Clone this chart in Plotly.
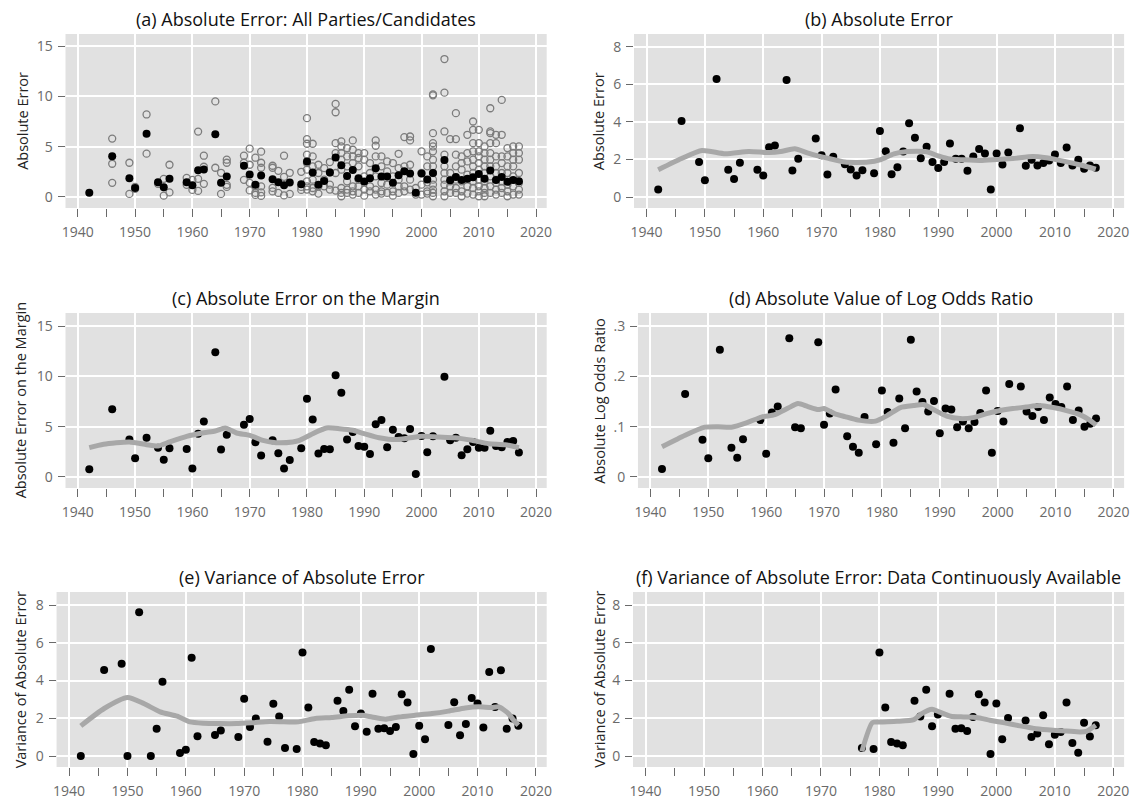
import plotly.graph_objects as go

# ---------------- data ----------------
years = [1942, 1946, 1949, 1950, 1952, 1954, 1955, 1956, 1959, 1960, 1961, 1962, 1964, 1965, 1966,
         1969, 1970, 1971, 1972, 1974, 1975, 1976, 1977, 1979, 1980, 1981, 1982, 1983, 1984, 1985,
         1986, 1987, 1988, 1989, 1990, 1991, 1992, 1993, 1994, 1995, 1996, 1997, 1998, 1999, 2000,
         2001, 2002, 2004, 2005, 2006, 2007, 2008, 2009, 2010, 2011, 2012, 2013, 2014, 2015, 2016, 2017]

abs_error = [0.41, 4.05, 1.86, 0.90, 6.28, 1.45, 0.96, 1.82, 1.45, 1.15, 2.65, 2.74, 6.23, 1.42, 2.04,
             3.11, 2.23, 1.20, 2.14, 1.75, 1.47, 1.15, 1.43, 1.27, 3.52, 2.44, 1.22, 1.59, 2.42, 3.93,
             3.15, 2.07, 2.67, 1.86, 1.54, 1.86, 2.85, 2.04, 2.04, 1.40, 2.16, 2.55, 2.32, 0.41, 2.32,
             1.73, 2.37, 3.66, 1.66, 1.98, 1.68, 1.81, 1.95, 2.27, 1.81, 2.64, 1.68, 1.98, 1.50, 1.68, 1.56]

margin_error = [0.76, 6.72, 3.71, 1.85, 3.90, 2.91, 1.72, 2.85, 2.78, 0.83, 4.30, 5.50, 12.4, 2.72, 4.20,
                5.20, 5.76, 3.44, 2.12, 3.64, 2.35, 0.83, 1.69, 2.85, 7.78, 5.70, 2.32, 2.78, 2.75, 10.1,
                8.38, 3.71, 4.47, 3.08, 3.01, 2.28, 5.23, 5.66, 2.95, 4.70, 3.97, 3.84, 4.77, 0.30, 4.07,
                2.45, 4.04, 9.97, 3.64, 3.90, 2.15, 2.75, 3.48, 2.91, 2.91, 4.60, 3.08, 2.95, 3.48, 3.58, 2.42]

log_odds = [0.016, 0.165, 0.074, 0.037, 0.253, 0.058, 0.038, 0.075, 0.113, 0.046, 0.128, 0.140, 0.276, 0.099, 0.097,
            0.268, 0.104, 0.126, 0.174, 0.081, 0.060, 0.048, 0.119, 0.065, 0.172, 0.129, 0.068, 0.156, 0.097, 0.273,
            0.170, 0.149, 0.130, 0.151, 0.087, 0.136, 0.134, 0.099, 0.110, 0.097, 0.109, 0.127, 0.172, 0.048, 0.131,
            0.110, 0.185, 0.180, 0.130, 0.121, 0.139, 0.113, 0.158, 0.145, 0.139, 0.180, 0.113, 0.132, 0.100, 0.106, 0.116]

var_years = [1942, 1946, 1949, 1950, 1952, 1954, 1955, 1956, 1959, 1960, 1961, 1962, 1965, 1966, 1969,
             1970, 1971, 1972, 1974, 1975, 1976, 1977, 1979, 1980, 1981, 1982, 1983, 1984, 1986, 1987,
             1988, 1989, 1990, 1991, 1992, 1993, 1994, 1995, 1996, 1997, 1998, 1999, 2000, 2001, 2002,
             2005, 2006, 2007, 2008, 2009, 2010, 2011, 2012, 2013, 2014, 2015, 2016, 2017]
var_error = [0.0, 4.56, 4.89, 0.0, 7.62, 0.0, 1.44, 3.94, 0.16, 0.34, 5.21, 1.05, 1.12, 1.35, 1.01,
             3.03, 1.54, 1.99, 0.76, 2.77, 2.10, 0.43, 0.37, 5.48, 2.57, 0.74, 0.66, 0.57, 2.93, 2.38,
             3.51, 1.58, 2.25, 1.29, 3.30, 1.44, 1.47, 1.33, 1.54, 3.28, 2.84, 0.11, 1.60, 0.89, 5.67,
             1.65, 2.85, 1.10, 1.70, 3.07, 2.78, 1.51, 4.45, 2.60, 4.54, 1.44, 1.99, 1.61]

cont_years = [1977, 1979, 1980, 1981, 1982, 1983, 1984, 1986, 1987, 1988, 1989, 1990, 1992, 1993, 1994,
              1995, 1996, 1997, 1998, 1999, 2000, 2001, 2002, 2005, 2006, 2007, 2008, 2009, 2010, 2011,
              2012, 2013, 2014, 2015, 2016, 2017]
cont_var = [0.43, 0.37, 5.48, 2.57, 0.74, 0.66, 0.57, 2.93, 2.10, 3.51, 1.58, 2.20, 3.30, 1.44, 1.47,
            1.33, 2.07, 3.28, 2.84, 0.11, 2.78, 0.89, 2.02, 1.88, 1.01, 1.19, 2.16, 0.62, 1.13, 1.28,
            2.84, 0.69, 0.18, 1.76, 1.03, 1.63]

# individual parties/candidates (hollow points in panel a)
party_years = [1946, 1949, 1950, 1952, 1954, 1955, 1956, 1959, 1960, 1961, 1962, 1964, 1965, 1966, 1969,
               1970, 1971, 1972, 1974, 1975, 1976, 1977, 1979, 1980, 1981, 1982, 1983, 1984, 1985, 1986,
               1987, 1988, 1989, 1990, 1991, 1992, 1993, 1994, 1995, 1996, 1997, 1998, 1999, 2000, 2001,
               2002, 2004, 2005, 2006, 2007, 2008, 2009, 2010, 2011, 2012, 2013, 2014, 2015, 2016, 2017]
party_errors = [
    [5.8, 3.3, 1.4], [3.4, 0.3], [0.8, 1.0], [8.2, 4.3], [1.3], [1.8, 0.13], [3.2, 0.45], [1.9, 1.2],
    [1.7, 0.7], [6.5, 1.8, 0.6], [4.1, 3.0, 1.3], [9.5, 2.9], [2.4, 0.3], [3.7, 3.4, 1.2, 1.0],
    [4.1, 3.4, 1.7], [4.8, 3.2, 1.4, 0.65], [3.9, 1.05, 0.4, 0.2], [4.5, 3.4, 2.9, 1.05, 0.45, 0.1],
    [3.1, 2.9, 0.9, 0.55], [2.6, 0.4], [4.1, 2.0, 0.15], [2.4, 0.3], [2.5, 0.7, 1.0],
    [7.83, 5.75, 5.29, 4.20, 3.37, 2.71, 1.55, 1.06, 0.73],
    [5.29, 4.03, 3.04, 1.72, 0.89, 0.56], [3.20, 2.38, 1.06, 0.33], [2.87, 1.72, 1.06],
    [3.47, 2.44, 1.22, 0.73], [9.25, 8.42, 5.35, 4.36, 2.38, 0.63],
    [5.52, 5.02, 4.36, 3.70, 2.71, 0.89, 0.40, 0.07], [4.86, 4.03, 3.04, 1.55, 0.73, 0.40],
    [5.62, 4.69, 4.03, 3.37, 1.06, 0.56, 0.23], [4.36, 3.87, 3.04, 1.72, 1.06, 0.40],
    [4.36, 3.70, 2.05, 0.73, 0.13], [3.37, 2.38, 1.06, 0.56], [5.62, 5.09, 4.03, 2.05, 0.73, 0.23],
    [4.03, 3.04, 1.39, 0.56, 0.33], [3.53, 2.54, 1.22, 0.40], [3.37, 2.05, 0.56, 0.13],
    [4.29, 2.87, 1.72, 1.06, 0.40], [5.95, 3.04, 1.06, 0.56], [6.01, 5.62, 3.20, 1.72, 0.73],
    [0.89, 0.23], [4.53, 2.38, 1.22, 0.23], [4.03, 3.04, 1.45, 0.56, 0.33],
    [10.2, 10.1, 6.34, 5.35, 5.02, 4.53, 3.70, 3.04, 2.38, 1.72, 1.22, 0.73, 0.40, 0.07],
    [13.71, 10.37, 6.51, 4.20, 3.04, 2.38, 1.72, 1.22, 0.56, 0.07],
    [5.75, 2.38, 1.55, 1.06, 0.40], [8.33, 5.75, 4.20, 3.04, 1.72, 0.89, 0.40],
    [4.03, 3.37, 2.71, 1.55, 0.56, 0.07], [6.18, 4.36, 3.53, 2.21, 1.06, 0.33],
    [7.50, 6.67, 5.35, 4.53, 3.70, 3.04, 2.38, 1.55, 0.89, 0.23],
    [6.67, 5.35, 4.53, 4.03, 3.37, 2.71, 1.72, 1.06, 0.56, 0.07],
    [5.02, 4.36, 3.70, 3.04, 2.38, 1.55, 0.89, 0.40, 0.07],
    [8.82, 6.51, 6.34, 5.35, 4.36, 3.70, 3.04, 2.05, 1.06, 0.40],
    [6.18, 5.35, 4.03, 3.04, 2.38, 1.39, 0.73, 0.23],
    [9.65, 6.18, 4.03, 3.37, 2.38, 1.55, 0.89, 0.40],
    [4.86, 4.03, 3.04, 2.38, 1.22, 0.56, 0.07],
    [5.02, 4.36, 3.70, 3.04, 2.05, 1.06, 0.23],
    [5.02, 4.36, 3.70, 2.38, 1.39, 0.73, 0.23],
]

# smoothed trend lines
smooth_b_x = [1942, 1946, 1949.5, 1953.5, 1957.5, 1961, 1963, 1965.4, 1967.7, 1971, 1974, 1978, 1980, 1982.4, 1984.7, 1988, 1990, 1992, 1994.3, 1997.2, 2000, 2002.8, 2006.2, 2008.5, 2010.8, 2014.2, 2017]
smooth_b_y = [1.45, 2.05, 2.48, 2.30, 2.42, 2.37, 2.42, 2.57, 2.34, 2.07, 1.86, 1.86, 1.98, 2.30, 2.42, 2.41, 2.19, 2.02, 1.98, 1.95, 2.00, 2.05, 2.16, 2.09, 1.95, 1.72, 1.49]

smooth_c_x = [1942, 1944.5, 1949, 1952, 1954, 1956, 1959, 1962, 1964, 1965.7, 1967.7, 1970, 1972.3, 1974.6, 1977.5, 1978.7, 1981, 1983.4, 1985.7, 1988, 1990, 1992.6, 1995.5, 1997.8, 2000.1, 2003, 2005.9, 2008.8, 2011.7, 2014.6, 2017]
smooth_c_y = [2.91, 3.25, 3.48, 3.21, 3.08, 3.48, 4.04, 4.40, 4.57, 4.87, 4.37, 4.14, 3.64, 3.41, 3.48, 3.64, 4.30, 4.87, 4.80, 4.64, 4.30, 3.90, 3.71, 3.87, 4.04, 3.97, 3.90, 3.64, 3.31, 3.21, 2.91]

smooth_d_x = [1942, 1946, 1949.4, 1951.7, 1954, 1956.9, 1959.2, 1961.5, 1963.8, 1965.5, 1967.2, 1969, 1970, 1971.8, 1973.6, 1975.9, 1978.9, 1980.9, 1983.2, 1985.5, 1987.2, 1988.9, 1991.2, 1993.5, 1995.8, 1998.1, 2000.4, 2002.6, 2004.9, 2007.2, 2009.6, 2011.9, 2014.2, 2015.9, 2017]
smooth_d_y = [0.060, 0.083, 0.099, 0.100, 0.099, 0.109, 0.119, 0.124, 0.137, 0.146, 0.140, 0.134, 0.136, 0.126, 0.120, 0.113, 0.111, 0.122, 0.138, 0.142, 0.144, 0.134, 0.121, 0.116, 0.118, 0.126, 0.132, 0.136, 0.139, 0.142, 0.138, 0.132, 0.124, 0.113, 0.103]

smooth_e_x = [1942, 1946, 1950, 1952.8, 1955.6, 1958.5, 1960.7, 1963, 1965.8, 1968.7, 1971.5, 1974.4, 1977.8, 1979.3, 1982.2, 1985, 1987.9, 1990.2, 1991.9, 1994.2, 1996.5, 1999.3, 2002.2, 2005, 2007.9, 2010.2, 2012.4, 2013.6, 2015.3, 2016.1, 2017]
smooth_e_y = [1.60, 2.52, 3.10, 2.78, 2.34, 2.11, 1.81, 1.74, 1.72, 1.72, 1.77, 1.83, 1.81, 1.81, 1.99, 2.04, 2.13, 2.16, 2.07, 1.95, 2.07, 2.16, 2.25, 2.38, 2.55, 2.61, 2.57, 2.61, 2.25, 1.93, 1.63]

smooth_f_x = [1977, 1978.8, 1980.2, 1983, 1985.9, 1987.1, 1989, 1990.2, 1992.2, 1994.4, 1996.6, 1998.9, 2001.2, 2004, 2006.8, 2009.7, 2012, 2014.3, 2015.4, 2017]
smooth_f_y = [0.25, 1.77, 1.81, 1.84, 1.93, 2.22, 2.48, 2.34, 2.11, 2.07, 2.04, 1.90, 1.77, 1.60, 1.45, 1.37, 1.33, 1.28, 1.31, 1.63]

titles = ["(a) Absolute Error: All Parties/Candidates", "(b) Absolute Error",
          "(c) Absolute Error on the Margin", "(d) Absolute Value of Log Odds Ratio",
          "(e) Variance of Absolute Error",
          "(f) Variance of Absolute Error: Data Continuously Available"]
ylabels = ["Absolute Error", "Absolute Error", "Absolute Error on the Margin",
           "Absolute Log Odds Ratio", "Variance of Absolute Error", "Variance of Absolute Error"]
x_ticks = [1940, 1950, 1960, 1970, 1980, 1990, 2000, 2010, 2020]
x_minor_ticks = [1945, 1955, 1965, 1975, 1985, 1995, 2005, 2015]
y_ticks_big = [0, 5, 10, 15]
y_ticks_small = [0, 2, 4, 6, 8]
y_ticks_odds = [0, 0.1, 0.2, 0.3]
y_text_odds = ["0", ".1", ".2", ".3"]

# ---------------- layout geometry (pixels) ----------------
W, H = 1142, 808
# (left, right, top, bottom, ylabel_x)
boxes = [(62, 547, 34, 208, 18), (635, 1129, 34, 208, 599),
         (62, 547, 313, 488, 17), (639, 1129, 313, 488, 600),
         (53, 547, 592, 767, 17), (634, 1129, 592, 767, 600)]
y_ranges = [[-1.1, 16.2], [-0.58, 8.67], [-1.1, 16.3], [-0.022, 0.326], [-0.58, 8.69], [-0.58, 8.69]]
y_tickvals = [y_ticks_big, y_ticks_small, y_ticks_big, y_ticks_odds, y_ticks_small, y_ticks_small]
y_ticktext = [[str(v) for v in y_ticks_big], [str(v) for v in y_ticks_small],
              [str(v) for v in y_ticks_big], y_text_odds,
              [str(v) for v in y_ticks_small], [str(v) for v in y_ticks_small]]

FONT = "Open Sans"
BG = "#e1e1e1"
DOT = "black"
SMOOTH = "#a8a8a8"
TICKC = "#6a6a6a"

fig = go.Figure()

def ax(i):
    return ("x" if i == 0 else f"x{i+1}"), ("y" if i == 0 else f"y{i+1}")

# panel a
xa, ya = ax(0)
ox, oy = [], []
for yr, vals in zip(party_years, party_errors):
    for v in vals:
        ox.append(yr)
        oy.append(v)
fig.add_trace(go.Scatter(x=ox, y=oy, mode="markers", xaxis=xa, yaxis=ya,
                         marker=dict(symbol="circle-open", size=7, color="#7c7c7c", line=dict(width=1.3, color="#7c7c7c"))))
fig.add_trace(go.Scatter(x=years, y=abs_error, mode="markers", xaxis=xa, yaxis=ya,
                         marker=dict(size=8, color=DOT)))

series = [
    (1, years, abs_error, smooth_b_x, smooth_b_y),
    (2, years, margin_error, smooth_c_x, smooth_c_y),
    (3, years, log_odds, smooth_d_x, smooth_d_y),
    (4, var_years, var_error, smooth_e_x, smooth_e_y),
    (5, cont_years, cont_var, smooth_f_x, smooth_f_y),
]
for i, xs, ys, sx, sy in series:
    xa, ya = ax(i)
    fig.add_trace(go.Scatter(x=xs, y=ys, mode="markers", xaxis=xa, yaxis=ya,
                             marker=dict(size=8, color=DOT)))
    fig.add_trace(go.Scatter(x=sx, y=sy, mode="lines", xaxis=xa, yaxis=ya,
                             line=dict(color=SMOOTH, width=5, shape="spline", smoothing=0.6)))

layout = dict(width=W, height=H, margin=dict(l=0, r=0, t=0, b=0), showlegend=False,
              paper_bgcolor="white", plot_bgcolor=BG, font=dict(family=FONT, color="#222222"))
annotations = []
for i, (l, r, t, b, ylx) in enumerate(boxes):
    xk = "xaxis" if i == 0 else f"xaxis{i+1}"
    yk = "yaxis" if i == 0 else f"yaxis{i+1}"
    yname = "y" if i == 0 else f"y{i+1}"
    xname = "x" if i == 0 else f"x{i+1}"
    layout[xk] = dict(domain=[l / W, r / W], anchor=yname, range=[1937.85, 2021.85],
                      tickvals=x_ticks, ticks="outside", ticklen=8, tickcolor=TICKC, tickwidth=1,
                      showgrid=True, gridcolor="white", gridwidth=1.6, zeroline=False, showline=False,
                      tickfont=dict(family=FONT, size=14, color=TICKC), ticklabelstandoff=3,
                      minor=dict(tickvals=x_minor_ticks,
                                 ticks="outside", ticklen=8, tickcolor=TICKC, tickwidth=1, showgrid=False))
    layout[yk] = dict(domain=[1 - b / H, 1 - t / H], anchor=xname, range=y_ranges[i],
                      tickvals=y_tickvals[i], ticktext=y_ticktext[i], ticks="outside", ticklen=7,
                      tickcolor=TICKC, tickwidth=1, showgrid=True, gridcolor="white", gridwidth=1.6,
                      zeroline=False, showline=False, tickfont=dict(family=FONT, size=14, color=TICKC),
                      ticklabelstandoff=2)
    annotations.append(dict(text=titles[i], x=(l + r) / 2 / W, y=1 - (t - 15) / H, xref="paper", yref="paper",
                            xanchor="center", yanchor="middle", showarrow=False,
                            font=dict(family=FONT, size=18, color="#111111")))
    annotations.append(dict(text=ylabels[i], x=ylx / W, y=1 - (t + b) / 2 / H, xref="paper", yref="paper",
                            xanchor="center", yanchor="middle", showarrow=False, textangle=-90,
                            font=dict(family=FONT, size=14.5, color="#222222")))
layout["annotations"] = annotations
fig.update_layout(**layout)
fig.write_html("out.html")
